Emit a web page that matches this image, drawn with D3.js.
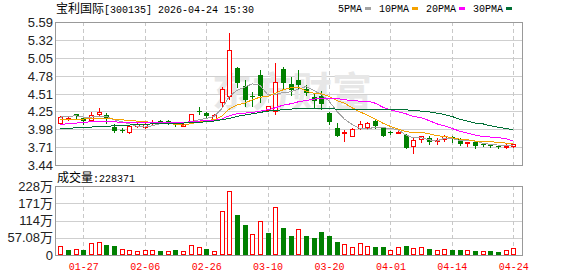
<!DOCTYPE html>
<html>
<head>
<meta charset="utf-8">
<script src="https://cdn.jsdelivr.net/npm/d3@7"></script>
<style>
  body { margin: 0; background: #fff; }
  svg text { font-family: "Liberation Sans", "Noto Sans CJK SC", sans-serif; }
</style>
</head>
<body>
<svg id="chart" width="578" height="276"></svg>
<script>
// trading days
const dates = ["01-22","01-23","01-26","01-27","01-28","01-29","01-30","02-02","02-03","02-04",
  "02-05","02-06","02-09","02-10","02-11","02-12","02-13","02-24","02-25","02-26",
  "02-27","03-02","03-03","03-04","03-05","03-06","03-09","03-10","03-11","03-12",
  "03-13","03-16","03-17","03-18","03-19","03-20","03-23","03-24","03-25","03-26",
  "03-27","03-30","03-31","04-01","04-02","04-03","04-07","04-08","04-09","04-10",
  "04-13","04-14","04-15","04-16","04-17","04-20","04-21","04-22","04-23","04-24"];

const opens = [4.07,4.14,4.20,4.14,4.11,4.21,4.19,4.01,3.97,3.94,
  4.02,4.01,4.07,4.10,4.10,4.08,4.03,4.08,4.25,4.22,
  4.12,4.38,4.48,4.90,4.63,4.48,4.80,4.27,4.25,4.88,
  4.66,4.72,4.59,4.46,4.48,4.22,4.00,3.93,3.88,3.99,
  4.01,4.10,3.99,3.93,3.93,3.89,3.72,3.83,3.85,3.80,
  3.83,3.86,3.83,3.77,3.79,3.76,3.75,3.73,3.72,3.72];
const highs = [4.17,4.18,4.21,4.16,4.23,4.29,4.22,4.05,3.99,4.03,
  4.08,4.07,4.12,4.12,4.11,4.09,4.07,4.21,4.31,4.24,
  4.20,4.62,5.43,4.91,4.72,4.54,4.87,4.33,4.98,4.92,
  4.76,4.87,4.64,4.51,4.56,4.24,4.07,3.97,3.99,4.10,
  4.09,4.11,4.00,3.95,3.97,3.90,3.84,3.88,3.88,3.85,
  3.89,3.88,3.84,3.78,3.80,3.77,3.75,3.74,3.75,3.76];
const lows = [4.06,4.12,4.14,4.06,4.10,4.17,4.07,3.93,3.93,3.92,
  4.01,4.00,4.06,4.07,4.06,4.02,4.02,4.07,4.21,4.16,
  4.11,4.33,4.43,4.61,4.32,4.33,4.39,4.26,4.20,4.58,
  4.49,4.59,4.49,4.29,4.28,4.06,3.87,3.80,3.87,3.98,
  3.99,4.00,3.87,3.91,3.92,3.69,3.62,3.79,3.76,3.76,
  3.80,3.79,3.74,3.72,3.70,3.73,3.71,3.70,3.69,3.71];
const closes = [4.16,4.15,4.18,4.10,4.19,4.23,4.13,3.95,3.96,4.02,
  4.05,4.06,4.09,4.08,4.09,4.04,4.05,4.20,4.24,4.17,
  4.19,4.58,5.17,4.68,4.42,4.46,4.47,4.32,4.69,4.67,
  4.57,4.64,4.52,4.40,4.35,4.08,3.88,3.94,3.98,4.05,
  4.07,4.03,3.88,3.92,3.94,3.70,3.82,3.88,3.78,3.82,
  3.88,3.83,3.75,3.78,3.73,3.74,3.73,3.71,3.73,3.76];
const prevClose = 4.06;

// volume, in 万
const volumes = [29.7,16.5,18.7,16.5,38.5,43,33,29.7,18.7,15.4,
  13.2,16.5,16.5,13.2,13.2,16.5,13.2,32,26.4,19.8,
  13.2,145,211.5,132,99,69,112,73.8,157.5,90,
  63,85,63,56,76,63,43,35,25.4,38.5,
  28.6,25.4,25.4,15.4,25.4,29.7,22,25.4,18.7,15.4,
  18.7,15.4,15.4,15.4,13.2,12.1,13.2,10,15.4,22.84];

// moving averages as drawn
const ma5 = [4.16,4.17,4.18,4.16,4.16,4.17,4.17,4.12,4.09,4.06,
  4.02,4.01,4.03,4.06,4.07,4.07,4.07,4.09,4.12,4.14,
  4.17,4.28,4.47,4.56,4.61,4.66,4.64,4.50,4.50,4.53,
  4.54,4.58,4.62,4.56,4.50,4.40,4.25,4.13,4.05,3.99,
  3.98,4.01,4.00,3.99,3.97,3.89,3.85,3.85,3.82,3.80,
  3.84,3.84,3.81,3.81,3.80,3.77,3.75,3.74,3.73,3.74];
const ma10 = [4.12,4.12,4.13,4.13,4.14,4.14,4.14,4.13,4.12,4.11,
  4.10,4.09,4.08,4.08,4.07,4.05,4.04,4.06,4.09,4.11,
  4.12,4.17,4.28,4.34,4.37,4.42,4.46,4.47,4.52,4.57,
  4.60,4.61,4.55,4.52,4.51,4.47,4.41,4.37,4.30,4.24,
  4.19,4.13,4.07,4.02,3.98,3.94,3.93,3.93,3.91,3.88,
  3.87,3.85,3.83,3.82,3.80,3.80,3.79,3.78,3.77,3.77];
const ma20 = [4.05,4.06,4.07,4.08,4.09,4.09,4.09,4.09,4.08,4.08,
  4.08,4.08,4.08,4.08,4.08,4.08,4.08,4.09,4.10,4.11,
  4.11,4.13,4.18,4.21,4.22,4.23,4.25,4.27,4.30,4.34,
  4.36,4.39,4.41,4.43,4.44,4.44,4.44,4.42,4.41,4.40,
  4.40,4.37,4.31,4.27,4.24,4.21,4.17,4.15,4.11,4.06,
  4.03,3.99,3.95,3.92,3.89,3.87,3.86,3.85,3.84,3.80];
const ma30 = [3.99,3.99,4.00,4.00,4.01,4.02,4.02,4.03,4.03,4.04,
  4.05,4.05,4.06,4.06,4.06,4.07,4.07,4.08,4.08,4.09,
  4.10,4.12,4.14,4.17,4.19,4.21,4.23,4.25,4.26,4.27,
  4.28,4.29,4.29,4.29,4.29,4.29,4.28,4.28,4.28,4.28,
  4.28,4.28,4.28,4.28,4.28,4.27,4.26,4.25,4.24,4.22,
  4.20,4.17,4.13,4.10,4.07,4.06,4.03,4.01,3.99,3.97];

const maNames = ["5PMA", "10PMA", "20PMA", "30PMA"];
const maColors = ["#a3a3a3", "#f5a200", "#ff00ff", "#006f35"];

const priceTicks = [5.59, 5.32, 5.05, 4.78, 4.51, 4.25, 3.98, 3.71, 3.44];
const volTicks = [0, 57.08, 114, 171, 228];
const volTickLabels = ["0", "57.08万", "114万", "171万", "228万"];
const dateTicks = ["01-27","02-06","02-26","03-10","03-20","04-01","04-14","04-24"];

const title = "宝利国际", titleCode = "[300135] 2026-04-24 15:30";
const volTitle = "成交量", volLast = ":228371";

const red = "#ff0000", green = "#008000";
const svg = d3.select("#chart");
const L = 55, R = 522, T = 22, B = 165, VT = 186, VB = 255;

let x = d3.scalePoint().domain(dates).range([60.3, 513.3]);
let y = d3.scaleLinear().domain([3.44, 5.59]).range([B, T]);
let yv = d3.scaleLinear().domain([0, 228]).range([VB, VT]);

const px = v => Math.round(v) + 0.5;

// grids
let grid = svg.append("g").attr("shape-rendering", "crispEdges");
grid.selectAll(".hp").data(priceTicks).join("line")
  .attr("x1", L).attr("x2", R)
  .attr("y1", d => px(y(d))).attr("y2", d => px(y(d)))
  .attr("stroke", "#cfcfcf");
grid.selectAll(".hv").data(volTicks).join("line")
  .attr("x1", L).attr("x2", R)
  .attr("y1", d => px(yv(d))).attr("y2", d => px(yv(d)))
  .attr("stroke", "#cfcfcf");
for (let [a, b] of [[T, B], [VT, VB]]) {
  grid.append("g").selectAll("line").data(dateTicks).join("line")
    .attr("x1", d => px(x(d))).attr("x2", d => px(x(d)))
    .attr("y1", a).attr("y2", b)
    .attr("stroke", "#c8c8c8")
    .attr("stroke-dasharray", "4,3");
}

// watermark
svg.append("text")
  .text("东方财富")
  .attr("x", 292).attr("y", 106)
  .attr("text-anchor", "middle")
  .attr("font-size", 40)
  .attr("font-weight", "bold")
  .style("font-family", "'Noto Sans CJK SC'")
  .attr("fill", "#e7e7e7");

// candles
let candles = svg.append("g").attr("shape-rendering", "crispEdges");
dates.forEach((d, i) => {
  let o = opens[i], c = closes[i];
  let up = c >= o;
  let col = up ? red : green;
  let cx = Math.round(x(d));
  candles.append("line")
    .attr("x1", cx + 0.5).attr("x2", cx + 0.5)
    .attr("y1", Math.round(y(highs[i]))).attr("y2", Math.round(y(lows[i])) + 1)
    .attr("stroke", col);
  let top = Math.round(y(Math.max(o, c))), bot = Math.round(y(Math.min(o, c)));
  let h = Math.max(bot - top, 1);
  if (up) {
    candles.append("rect")
      .attr("x", cx - 1.5).attr("y", top + 0.5)
      .attr("width", 4).attr("height", h)
      .attr("fill", "#fff").attr("stroke", col);
  } else {
    candles.append("rect")
      .attr("x", cx - 2).attr("y", top)
      .attr("width", 5).attr("height", h)
      .attr("fill", col);
  }
});

// moving average lines
const maData = [ma5, ma10, ma20, ma30];
let line = d3.line()
  .x((d, i) => x(dates[i]))
  .y(d => y(d));
svg.append("g").selectAll("path").data(maData).join("path")
  .attr("d", line)
  .attr("fill", "none")
  .attr("stroke", (d, i) => maColors[i])
  .attr("stroke-width", 1)
  .attr("shape-rendering", "crispEdges");

// volume bars, coloured against previous close
let vol = svg.append("g").attr("shape-rendering", "crispEdges");
dates.forEach((d, i) => {
  let pc = i === 0 ? prevClose : closes[i - 1];
  let up = closes[i] >= pc;
  let cx = Math.round(x(d));
  let top = Math.round(yv(volumes[i]));
  if (up) {
    vol.append("rect")
      .attr("x", cx - 1.5).attr("y", top + 0.5)
      .attr("width", 4).attr("height", VB - top - 1)
      .attr("fill", "#fff").attr("stroke", red);
  } else {
    vol.append("rect")
      .attr("x", cx - 2).attr("y", top)
      .attr("width", 5).attr("height", VB - top)
      .attr("fill", green);
  }
});

// frames
for (let [a, b] of [[T, B], [VT, VB]]) {
  svg.append("rect")
    .attr("x", L + 0.5).attr("y", a + 0.5)
    .attr("width", R - L).attr("height", b - a)
    .attr("fill", "none").attr("stroke", "#999")
    .attr("shape-rendering", "crispEdges");
}

// axis labels
svg.append("g").selectAll("text").data(priceTicks).join("text")
  .text(d => d.toFixed(2))
  .attr("x", 53).attr("y", d => y(d))
  .attr("dy", "0.36em")
  .attr("text-anchor", "end")
  .attr("font-size", 13)
  .attr("fill", "#222");

svg.append("g").selectAll("text").data(volTicks).join("text")
  .text((d, i) => volTickLabels[i])
  .attr("x", 53).attr("y", d => yv(d))
  .attr("dy", "0.36em")
  .attr("text-anchor", "end")
  .attr("font-size", 13)
  .attr("fill", "#222");

svg.append("g").selectAll("text").data(dateTicks).join("text")
  .text(d => d)
  .attr("x", d => x(d) + 0.5).attr("y", 270)
  .attr("text-anchor", "middle")
  .attr("font-size", 10)
  .style("font-family", "'Liberation Mono', monospace")
  .attr("fill", red);

// titles
let t = svg.append("text").attr("x", 56).attr("y", 13).attr("fill", "#000");
t.append("tspan").text(title).attr("font-size", 12).style("font-family", "'Noto Sans CJK SC'");
t.append("tspan").text(titleCode).attr("font-size", 10).style("font-family", "'Liberation Mono', monospace");

let vt = svg.append("text").attr("x", 57).attr("y", 182).attr("fill", "#000");
vt.append("tspan").text(volTitle).attr("font-size", 12).style("font-family", "'Noto Sans CJK SC'");
vt.append("tspan").text(volLast).attr("font-size", 10).style("font-family", "'Liberation Mono', monospace");

// legend
let lx = 338;
maNames.forEach((n, i) => {
  svg.append("text").text(n)
    .attr("x", lx).attr("y", 12)
    .attr("font-size", 10)
    .style("font-family", "'Liberation Mono', monospace")
    .attr("fill", "#000");
  let sw = lx + n.length * 6 + 3;
  svg.append("rect")
    .attr("x", sw).attr("y", 7)
    .attr("width", 6).attr("height", 3)
    .attr("fill", maColors[i]);
  lx = sw + 6 + 8;
});
</script>
</body>
</html>
